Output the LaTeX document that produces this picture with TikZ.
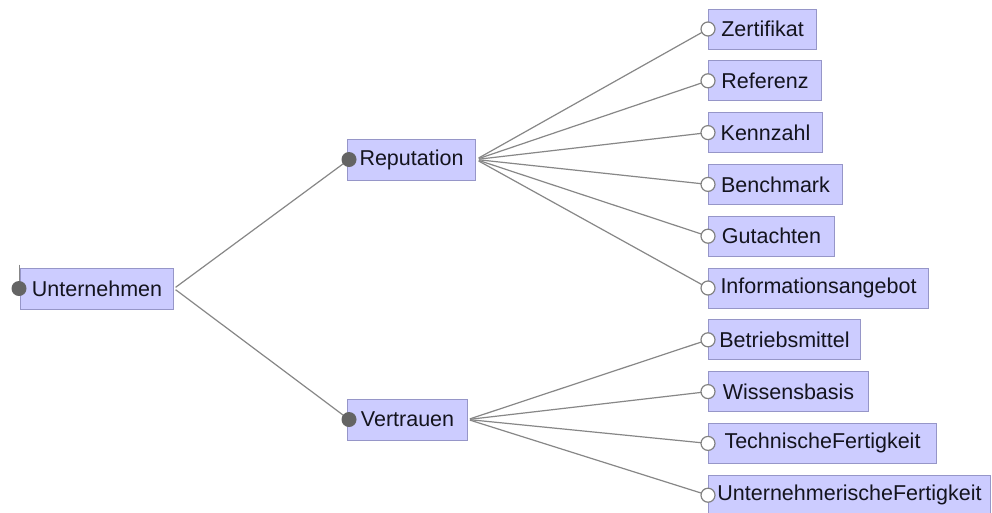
\documentclass[tikz,border=0pt]{standalone}
\usepackage{fontspec}
\setmainfont{Liberation Sans}
\usetikzlibrary{backgrounds}
\definecolor{boxfill}{RGB}{204,204,255}
\definecolor{boxline}{RGB}{150,150,200}
\definecolor{linkgray}{RGB}{135,135,135}
\definecolor{dotgray}{RGB}{100,100,100}
\definecolor{ringgray}{RGB}{130,130,130}
\definecolor{textcol}{RGB}{20,20,30}
\begin{document}
\begin{tikzpicture}[x=1pt,y=-1pt,
  concept/.style={draw=boxline, fill=boxfill, line width=1pt, inner sep=0pt,
    anchor=west, font=\fontsize{21.5}{24}\selectfont, text=textcol},
  rootbox/.style={concept, minimum height=41pt},
  leafbox/.style={concept, minimum height=40pt},
  link/.style={draw=linkgray, line width=1.2pt},
  mandatory/.style={circle, fill=dotgray, minimum size=15pt, inner sep=0pt},
  optional/.style={circle, draw=ringgray, fill=white, line width=1.2pt,
    minimum size=14pt, inner sep=0pt}]
\useasboundingbox (0,0) rectangle (992,512);
\clip (0,0) rectangle (992,512);

% feature boxes of the upper levels
\node[rootbox, minimum width=153pt] (root) at (20,288.5) {Unternehmen};
\node[rootbox, minimum width=128pt] (rep) at (347,159.5) {Reputation};
\node[rootbox, minimum width=120pt] (ver) at (347,419.5) {Vertrauen};

% leaf features: name / label / box width / row
\foreach \n/\t/\w/\k in {
  zer/Zertifikat/108/0, ref/Referenz/113/1, ken/Kennzahl/114/2,
  ben/Benchmark/134/3, gut/Gutachten/126/4, inf/Informationsangebot/220/5,
  bet/Betriebsmittel/152/6, wis/Wissensbasis/160/7,
  tec/TechnischeFertigkeit/228/8, unt/UnternehmerischeFertigkeit/282/9} {
  \node[leafbox, minimum width=\w pt] (\n) at (708,{29+51.8*\k}) {\t};
  \node[optional] (c-\n) at (\n.west) {};
}

% mandatory markers
\coordinate (tick) at ([xshift=-1pt,yshift=24pt]root.west);
\draw[link, line width=1pt] (tick) -- ([xshift=-1pt]root.west);
\node[mandatory] (c-root) at ([xshift=-1pt]root.west) {};
\node[mandatory] (c-rep) at ([xshift=2pt]rep.west) {};
\node[mandatory] (c-ver) at ([xshift=2pt]ver.west) {};

% connectors
\begin{scope}[on background layer]
  \fill[white] (0,0) rectangle (992,512);
  \draw[link, shorten <=2pt] (root.east) -- (c-rep.center);
  \draw[link, shorten <=2pt] (root.east) -- (c-ver.center);
  \foreach \n in {zer,ref,ken,ben,gut,inf}
    \draw[link, shorten <=3pt] (rep.east) -- (c-\n.center);
  \foreach \n in {bet,wis,tec,unt}
    \draw[link, shorten <=2pt] (ver.east) -- (c-\n.center);
\end{scope}
\end{tikzpicture}
\end{document}
